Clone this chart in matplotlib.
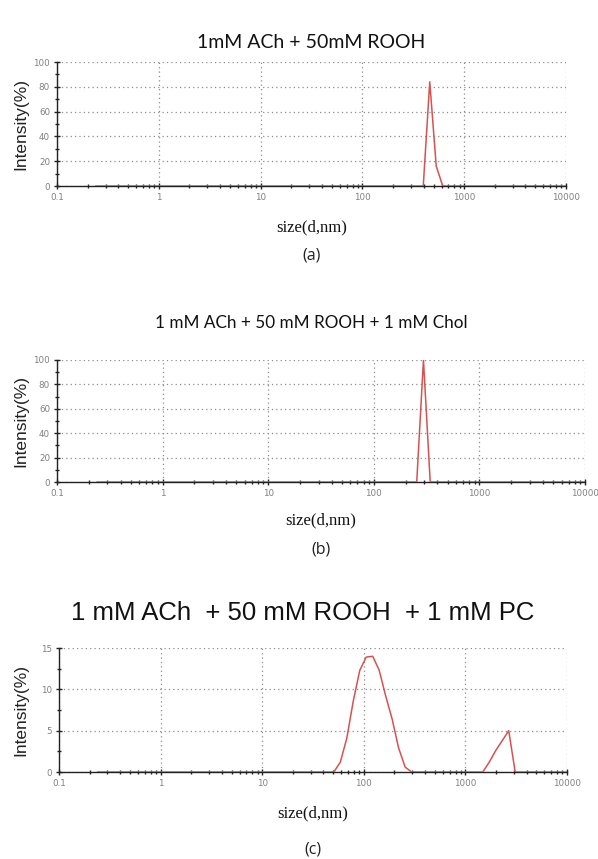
import matplotlib
matplotlib.use('Agg')
import matplotlib.pyplot as plt
from matplotlib.ticker import LogLocator, MultipleLocator, FixedLocator, NullFormatter

# size distribution by intensity
size_a = [0.24, 342.0, 396.1, 458.7, 531.2, 615.1, 10000]
int_a = [0, 0, 0, 84, 16, 0, 0]

size_b = [0.24, 220.2, 255.0, 295.3, 342.0, 10000]
int_b = [0, 0, 0, 100, 0, 0]

size_c = [0.24, 43.82, 50.75, 58.77, 68.06, 78.82, 91.28, 105.7, 122.4, 141.8,
          164.2, 190.1, 220.2, 255.0, 295.3, 1484, 1718, 1990, 2305, 2669,
          3091, 10000]
int_c = [0, 0, 0, 1.2, 4.1, 8.6, 12.3, 13.9, 14.0, 12.3,
         9.2, 6.4, 2.9, 0.6, 0, 0, 1.2, 2.6, 3.8, 5.0,
         0, 0]

titles = ['1mM ACh + 50mM ROOH',
          '1 mM ACh + 50 mM ROOH + 1 mM Chol',
          '1 mM ACh  + 50 mM ROOH  + 1 mM PC']
tags = ['(a)', '(b)', '(c)']
xticks = [0.1, 1, 10, 100, 1000, 10000]
xticklabels = ['0.1', '1', '10', '100', '1000', '10000']

W, H = 598, 859
fig = plt.figure(figsize=(W / 100, H / 100), dpi=100)


def px_axes(left, right, top, bottom):
    return fig.add_axes([left / W, 1 - bottom / H, (right - left) / W, (bottom - top) / H])


def draw_panel(ax, x, y, ymax, ystep, yminor):
    ax.plot(x, y, color='#d65252', lw=1.1, zorder=3)
    ax.set_xscale('log')
    ax.set_xlim(0.1, 10000)
    ax.set_ylim(0, ymax)
    ax.xaxis.set_major_locator(FixedLocator(xticks))
    ax.set_xticklabels(xticklabels)
    ax.xaxis.set_minor_locator(LogLocator(base=10, subs=range(2, 10)))
    ax.xaxis.set_minor_formatter(NullFormatter())
    ax.yaxis.set_major_locator(MultipleLocator(ystep))
    ax.yaxis.set_minor_locator(MultipleLocator(yminor))
    ax.grid(True, which='major', ls=(0, (1, 2.5)), color='#8c8c8c', lw=0.9)
    ax.spines['top'].set_visible(False)
    ax.spines['right'].set_visible(False)
    for s in ('left', 'bottom'):
        ax.spines[s].set_color('#222222')
        ax.spines[s].set_linewidth(1.0)
    ax.tick_params(which='both', direction='inout', color='#222222', width=1.0,
                   labelsize=6.3, labelcolor='#808080', pad=3)
    ax.tick_params(which='major', length=4)
    ax.tick_params(which='minor', length=3)
    ax.set_axisbelow(True)


# pixel boxes of each plot area: left, right, top, bottom
boxes = [(57, 566, 62, 186), (57, 585, 360, 482), (59, 567, 648, 772)]
data = [(size_a, int_a, 100, 20, 10), (size_b, int_b, 100, 20, 10), (size_c, int_c, 15, 5, 2.5)]
title_x = [311, 311, 303]
title_y = [43, 323, 613]
title_fs = [14, 12.3, 18.5]
title_font = ['Lato', 'Lato', 'Liberation Sans']
xlabel_y = [227, 520, 813]
tag_y = [255, 549, 850]

for i in range(3):
    left, right, top, bottom = boxes[i]
    ax = px_axes(left, right, top, bottom)
    draw_panel(ax, *data[i])
    cx = (left + right) / 2
    fig.text(title_x[i] / W, 1 - title_y[i] / H, titles[i], ha='center', va='center',
             fontsize=title_fs[i], family=title_font[i], color='#111111')
    fig.text(21 / W, 1 - (top + bottom) / 2 / H, 'Intensity(%)', rotation=90,
             ha='center', va='center', fontsize=12.5, family='Liberation Sans',
             color='#222222')
    fig.text(cx / W, 1 - xlabel_y[i] / H, 'size(d,nm)', ha='center', va='center',
             fontsize=12, family='Liberation Serif', color='#111111')
    fig.text(cx / W, 1 - tag_y[i] / H, tags[i], ha='center', va='center',
             fontsize=11.5, family='Open Sans', color='#222222')

fig.savefig('out.png', dpi=100, facecolor='white')
